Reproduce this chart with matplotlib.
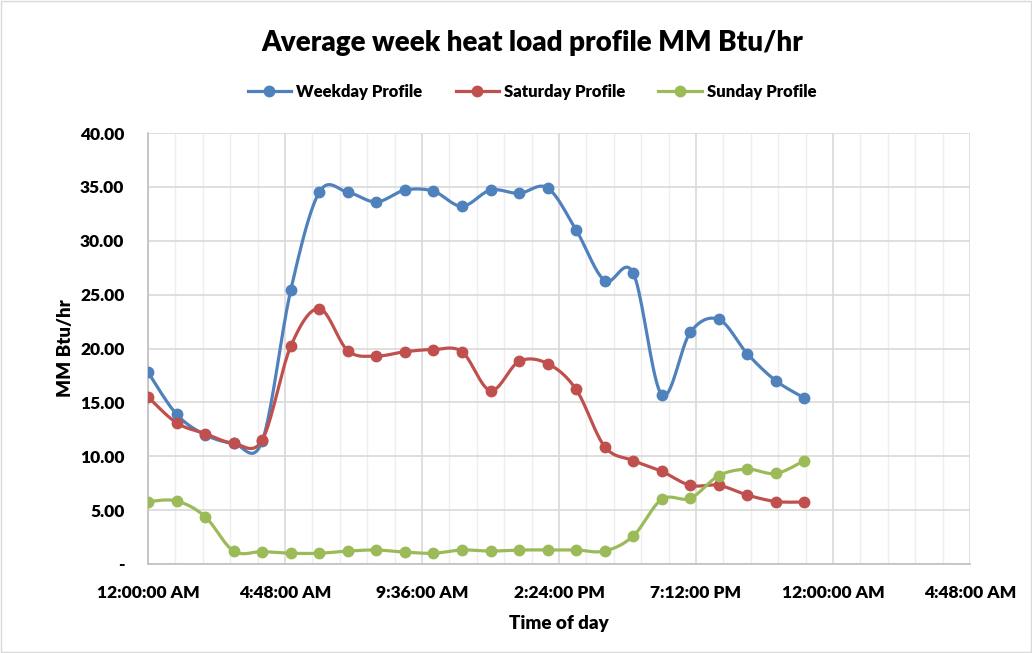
import numpy as np
import matplotlib
matplotlib.use("Agg")
import matplotlib.pyplot as plt
from matplotlib.ticker import FixedLocator, FuncFormatter

plt.rcParams['font.family'] = ['Lato', 'DejaVu Sans']
plt.rcParams['font.weight'] = 'bold'

# hours of day, stored as fraction of a day (Excel time)
hours = list(range(24))
weekday = [17.8, 13.9, 12.0, 11.2, 11.4, 25.4, 34.5, 34.5, 33.6, 34.7, 34.6, 33.2,
           34.7, 34.4, 34.9, 31.0, 26.3, 27.0, 15.7, 21.5, 22.7, 19.5, 17.0, 15.4]
saturday = [15.5, 13.1, 12.1, 11.2, 11.5, 20.2, 23.7, 19.8, 19.3, 19.7, 19.9, 19.7,
            16.1, 18.8, 18.6, 16.2, 10.9, 9.6, 8.6, 7.3, 7.3, 6.4, 5.8, 5.75]
sunday = [5.8, 5.85, 4.4, 1.2, 1.15, 1.0, 1.0, 1.2, 1.3, 1.1, 1.0, 1.3,
          1.2, 1.3, 1.3, 1.3, 1.2, 2.6, 6.0, 6.1, 8.2, 8.8, 8.4, 9.6]
series = [("Weekday Profile", weekday, "#4F81BD"),
          ("Saturday Profile", saturday, "#C0504D"),
          ("Sunday Profile", sunday, "#9BBB59")]


def smooth(x, y, n=20):
    # Excel-like smoothed line: cardinal spline through the points
    x = np.asarray(x, float)
    y = np.asarray(y, float)
    px = np.concatenate([[x[0]], x, [x[-1]]])
    py = np.concatenate([[y[0]], y, [y[-1]]])
    xs, ys = [], []
    for i in range(1, len(px) - 2):
        p0, p1, p2, p3 = px[i - 1], px[i], px[i + 1], px[i + 2]
        q0, q1, q2, q3 = py[i - 1], py[i], py[i + 1], py[i + 2]
        c1x, c1y = p1 + (p2 - p0) / 6, q1 + (q2 - q0) / 6
        c2x, c2y = p2 - (p3 - p1) / 6, q2 - (q3 - q1) / 6
        t = np.linspace(0, 1, n, endpoint=False)
        a, b, c, d = (1 - t) ** 3, 3 * (1 - t) ** 2 * t, 3 * (1 - t) * t ** 2, t ** 3
        xs.append(a * p1 + b * c1x + c * c2x + d * p2)
        ys.append(a * q1 + b * c1y + c * c2y + d * q2)
    xs.append([x[-1]])
    ys.append([y[-1]])
    return np.concatenate(xs), np.concatenate(ys)


fig = plt.figure(figsize=(10.32, 6.53), dpi=100)
ax = fig.add_axes([148 / 1032, 1 - 564 / 653, (970 - 148) / 1032, (564 - 133) / 653])

x = np.array(hours) / 24.0
for name, vals, col in series:
    sx, sy = smooth(x, vals)
    ax.plot(sx, sy, color=col, lw=2.3, zorder=3)
    ax.plot(x, vals, 'o', color=col, ms=7.5, zorder=4)
    ax.plot([], [], '-o', color=col, lw=2.3, ms=7.5, label=name)

ax.set_xlim(0, 1.2)
ax.set_ylim(0, 40)
ax.xaxis.set_major_locator(FixedLocator(np.arange(0, 1.21, 0.2)))
ax.xaxis.set_minor_locator(FixedLocator(np.arange(0, 1.2 + 1e-9, 0.04)))
ax.yaxis.set_major_locator(FixedLocator(np.arange(0, 41, 5)))


def time_fmt(v, pos):
    mins = int(round(v * 24 * 60)) % (24 * 60)
    h, m = divmod(mins, 60)
    ampm = "AM" if h < 12 else "PM"
    h12 = h % 12
    if h12 == 0:
        h12 = 12
    return f"{h12}:{m:02d}:00 {ampm}"


ax.xaxis.set_major_formatter(FuncFormatter(time_fmt))
ax.yaxis.set_major_formatter(FuncFormatter(lambda v, p: "-" if v == 0 else f"{v:.2f}"))

ax.grid(True, which='minor', axis='x', color='#eeeeee', lw=1.0, zorder=0)
ax.grid(True, which='major', color='#d9d9d9', lw=1.2, zorder=0)
ax.set_axisbelow(True)
for s in ['top', 'right']:
    ax.spines[s].set_visible(False)
for s in ['left', 'bottom']:
    ax.spines[s].set_color('#bfbfbf')
    ax.spines[s].set_linewidth(1.2)
ax.tick_params(which='both', length=0, labelsize=12.5)
ax.tick_params(axis='x', pad=15)
ax.tick_params(axis='y', pad=17)
for lab in ax.get_xticklabels() + ax.get_yticklabels():
    lab.set_fontweight('heavy')

ax.set_xlabel("Time of day", fontsize=13.5, fontweight='heavy', labelpad=10)
ax.set_ylabel("MM Btu/hr", fontsize=13.5, fontweight='heavy', labelpad=4)

fig.text(532 / 1032, 1 - 43 / 653, "Average week heat load profile MM Btu/hr",
         ha='center', va='center', fontsize=20, fontweight='heavy')
fig.legend(loc='center', bbox_to_anchor=(532 / 1032, 1 - 92 / 653), ncol=3,
           frameon=False, handlelength=2.6, columnspacing=2.0,
           handletextpad=0.3, prop={'weight': 'heavy', 'size': 12})

fig.patches.append(plt.Rectangle((0.001, 0.001), 0.998, 0.998, transform=fig.transFigure,
                                 fill=False, edgecolor='#d9d9d9', lw=1))
fig.savefig("out.png", dpi=100)
